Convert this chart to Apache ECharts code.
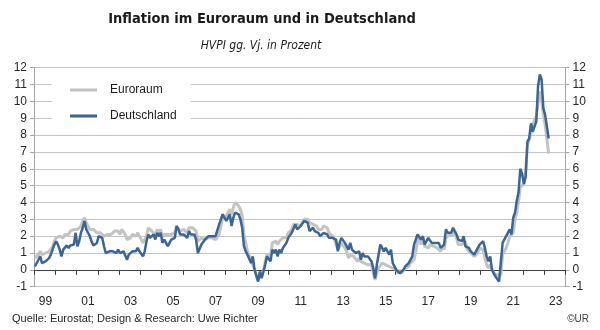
<!DOCTYPE html>
<html>
<head>
<meta charset="utf-8">
<script src="https://cdn.jsdelivr.net/npm/echarts@6/dist/echarts.min.js"></script>
<style>
html,body{margin:0;padding:0;background:#fff;}
#chart{width:600px;height:330px;}
</style>
</head>
<body>
<div id="chart"></div>
<script>
// ---- Data (monthly HICP y/y, Jan 1999 - Mar 2023) ----
const startYear = 1999;
const endYear = 2023;
const yearLabels = ['99','01','03','05','07','09','11','13','15','17','19','21','23'];
const labelYears = [1999,2001,2003,2005,2007,2009,2011,2013,2015,2017,2019,2021,2023];
const seriesNames = ['Euroraum', 'Deutschland'];

const euroraum = [
  0.7, 0.8, 0.9, 1.1, 0.9, 0.9, 1.0, 1.1, 1.1, 1.2, 1.4, 1.7,
  1.9, 1.9, 2.0, 1.9, 1.9, 2.1, 2.0, 2.1, 2.3, 2.3, 2.4, 2.5,
  2.4, 2.5, 2.6, 2.9, 3.1, 2.8, 2.6, 2.4, 2.3, 2.4, 2.3, 2.2,
  2.3, 2.2, 2.2, 2.0, 2.0, 2.1, 2.0, 2.1, 2.1, 2.3, 2.3, 2.3,
  2.1, 2.4, 2.5, 2.1, 1.8, 1.9, 1.9, 2.1, 2.2, 2.0, 2.2, 2.0,
  1.9, 1.6, 1.7, 2.0, 2.5, 2.4, 2.3, 2.3, 2.1, 2.4, 2.2, 2.4,
  1.9, 2.1, 2.1, 2.1, 2.0, 2.1, 2.2, 2.2, 2.6, 2.5, 2.3, 2.2,
  2.4, 2.3, 2.2, 2.5, 2.5, 2.5, 2.5, 2.3, 1.7, 1.6, 1.9, 1.9,
  1.8, 1.8, 1.9, 1.9, 1.9, 1.9, 1.8, 1.7, 2.1, 2.6, 3.1, 3.1,
  3.2, 3.3, 3.6, 3.3, 3.7, 4.0, 4.0, 3.8, 3.6, 3.2, 2.1, 1.6,
  1.1, 1.2, 0.6, 0.6, 0.0, -0.1, -0.6, -0.2, -0.3, -0.1, 0.5, 0.9,
  1.0, 0.8, 1.6, 1.6, 1.7, 1.5, 1.7, 1.6, 1.9, 1.9, 1.9, 2.2,
  2.3, 2.4, 2.7, 2.8, 2.7, 2.7, 2.6, 2.6, 3.0, 3.0, 3.0, 2.8,
  2.7, 2.7, 2.7, 2.6, 2.4, 2.4, 2.4, 2.6, 2.6, 2.5, 2.2, 2.2,
  2.0, 1.8, 1.7, 1.2, 1.4, 1.6, 1.6, 1.3, 1.1, 0.7, 0.9, 0.8,
  0.8, 0.7, 0.5, 0.7, 0.5, 0.5, 0.4, 0.4, 0.3, 0.4, 0.3, -0.2,
  -0.6, -0.2, 0.1, 0.2, 0.4, 0.3, 0.3, 0.3, 0.2, 0.3, 0.1, 0.1,
  0.0, -0.2, 0.0, -0.2, -0.1, 0.1, 0.2, 0.2, 0.4, 0.5, 0.6, 1.1,
  1.7, 2.0, 1.5, 1.9, 1.4, 1.3, 1.3, 1.5, 1.5, 1.4, 1.5, 1.3,
  1.3, 1.1, 1.4, 1.2, 1.9, 2.0, 2.1, 2.0, 2.1, 2.3, 1.9, 1.5,
  1.4, 1.5, 1.4, 1.7, 1.2, 1.3, 1.0, 1.0, 0.8, 0.7, 1.0, 1.3,
  1.4, 1.2, 0.7, 0.3, 0.1, 0.3, 0.4, -0.2, -0.3, -0.3, -0.3, -0.3,
  0.9, 0.9, 1.3, 1.6, 2.0, 1.9, 2.2, 3.0, 3.4, 4.1, 4.9, 5.0,
  5.1, 5.9, 7.4, 7.4, 8.1, 8.6, 8.9, 9.1, 9.9, 10.6, 10.1, 9.2,
  8.6, 8.5, 6.9
];

const deutschland = [
  0.2, 0.3, 0.6, 0.8, 0.4, 0.5, 0.5, 0.6, 0.7, 0.9, 1.2, 1.5,
  1.7, 1.5, 1.2, 0.8, 1.2, 1.3, 1.45, 1.3, 1.45, 1.4, 1.5, 2.2,
  1.4, 1.7, 2.2, 2.5, 2.9, 2.4, 2.2, 2.0, 1.7, 1.45, 1.4, 1.6,
  2.0, 2.0, 1.9, 1.4, 1.0, 1.0, 1.1, 1.1, 1.1, 1.1, 1.0, 1.2,
  1.0, 1.1, 1.1, 1.0, 0.6, 0.9, 0.8, 1.1, 1.1, 1.1, 1.3, 1.1,
  1.2, 0.8, 1.1, 1.7, 2.1, 1.9, 2.0, 2.1, 1.8, 2.2, 2.0, 2.2,
  1.6, 1.8, 1.6, 1.4, 1.6, 1.8, 1.9, 1.9, 2.6, 2.4, 2.1, 2.1,
  2.1, 2.1, 1.9, 2.3, 2.1, 2.0, 2.1, 1.8, 1.0, 1.1, 1.5, 1.4,
  1.8, 1.9, 2.0, 2.0, 2.0, 2.0, 2.0, 2.0, 2.7, 2.7, 3.3, 3.1,
  2.9, 3.0, 3.3, 2.6, 3.1, 3.4, 3.5, 3.3, 3.0, 2.5, 1.4, 1.1,
  0.9, 1.0, 0.4, 0.8, 0.0, 0.0, -0.7, -0.1, -0.5, -0.1, 0.3, 0.8,
  0.8, 0.5, 1.2, 1.0, 1.2, 0.8, 1.2, 1.0, 1.3, 1.3, 1.6, 1.9,
  2.0, 2.2, 2.3, 2.7, 2.4, 2.4, 2.6, 2.5, 2.9, 2.9, 2.8, 2.3,
  2.3, 2.5, 2.3, 2.2, 2.2, 2.0, 2.1, 2.2, 2.1, 2.1, 1.9, 2.0,
  1.9, 1.8, 1.8, 1.1, 1.6, 1.9, 1.9, 1.6, 1.6, 1.2, 1.6, 1.2,
  1.2, 1.0, 0.9, 1.1, 0.6, 1.0, 0.8, 0.8, 0.8, 0.7, 0.5, 0.1,
  -0.5, 0.3, 0.9, 1.5, 1.3, 1.1, 1.3, 1.1, 0.9, 1.2, 0.4, 0.3,
  0.0, -0.1, -0.2, -0.1, 0.0, 0.2, 0.3, 0.4, 0.5, 0.8, 1.5, 1.8,
  2.1, 2.0, 1.8, 2.0, 1.5, 1.7, 1.9, 1.9, 1.6, 1.5, 1.6, 1.6,
  1.6, 1.3, 1.4, 1.5, 2.4, 2.2, 2.1, 2.2, 2.5, 2.4, 2.1, 1.8,
  1.8, 1.7, 2.0, 1.4, 1.5, 1.3, 1.1, 1.0, 0.9, 1.0, 1.3, 1.5,
  1.6, 1.7, 1.3, 0.8, 0.5, 0.8, 0.0, -0.1, -0.4, -0.5, -0.7, -0.7,
  1.6, 1.6, 2.0, 2.1, 2.4, 2.1, 3.1, 3.4, 4.1, 4.6, 6.0, 5.7,
  5.1, 5.5, 7.6, 7.8, 8.7, 8.2, 8.5, 8.8, 10.9, 11.6, 11.3, 9.6,
  9.2, 9.3, 7.8
];

// Month categories Jan 1999 .. Dec 2023
const months = [];
for (let y = startYear; y <= endYear; y++) {
  for (let m = 1; m <= 12; m++) months.push(y + '-' + (m < 10 ? '0' + m : m));
}

const labelFont = '"Liberation Sans", Arial, sans-serif';
const chart = echarts.init(document.getElementById('chart'), null, {renderer: 'canvas'});

chart.setOption({
  animation: false,
  backgroundColor: '#ffffff',
  grid: {left: 34, right: 34.5, top: 67.7, bottom: 43.3, containLabel: false},
  legend: {
    data: seriesNames,
    orient: 'vertical',
    left: 52, top: 75,
    padding: [8, 14, 6, 18],
    backgroundColor: '#ffffff',
    itemWidth: 27, itemHeight: 3,
    itemGap: 12,
    icon: 'rect',
    textStyle: {fontFamily: labelFont, fontSize: 12, color: '#1a1a1a', lineHeight: 14, padding: [0, 0, 0, 8]}
  },
  xAxis: [
    {
      type: 'category', data: months, boundaryGap: true, position: 'bottom',
      axisLine: {show: false, onZero: false},
      axisTick: {show: false},
      splitLine: {show: false},
      axisLabel: {
        margin: 9, fontFamily: labelFont, fontSize: 12, color: '#262626',
        interval: function (i) {
          const yr = startYear + Math.floor(i / 12);
          return i % 12 === 6 && labelYears.indexOf(yr) >= 0;
        },
        formatter: function (v) {
          const yr = parseInt(v.slice(0, 4), 10);
          const k = labelYears.indexOf(yr);
          return k >= 0 ? yearLabels[k] : '';
        }
      }
    },
    {
      type: 'category', data: months, boundaryGap: true, position: 'top',
      axisLine: {show: true, onZero: true, lineStyle: {color: '#3f3f3f', width: 1}},
      axisTick: {show: true, inside: true, length: 5, interval: function (i) { return i % 12 === 0; }, lineStyle: {color: '#3f3f3f'}},
      axisLabel: {show: false},
      splitLine: {show: false}
    }
  ],
  yAxis: [
    {
      type: 'value', min: -1, max: 12, interval: 1, position: 'left',
      axisLine: {show: true, lineStyle: {color: '#a6a6a6'}},
      axisTick: {show: true, length: 4, lineStyle: {color: '#a6a6a6'}},
      axisLabel: {margin: 7, fontFamily: labelFont, fontSize: 12, color: '#262626'},
      splitLine: {show: true, lineStyle: {color: '#c4c4c4', width: 1}}
    },
    {
      type: 'value', min: -1, max: 12, interval: 1, position: 'right',
      axisLine: {show: true, onZero: false, lineStyle: {color: '#a6a6a6'}},
      axisTick: {show: true, length: 4, lineStyle: {color: '#a6a6a6'}},
      axisLabel: {margin: 7, fontFamily: labelFont, fontSize: 12, color: '#262626'},
      splitLine: {show: false}
    }
  ],
  series: [
    {
      name: seriesNames[0], type: 'line', data: euroraum, xAxisIndex: 0, yAxisIndex: 0,
      showSymbol: false, symbol: 'none', smooth: false,
      lineStyle: {color: '#c3c3c3', width: 3},
      itemStyle: {color: '#c3c3c3'}, z: 2
    },
    {
      name: seriesNames[1], type: 'line', data: deutschland, xAxisIndex: 0, yAxisIndex: 0,
      showSymbol: false, symbol: 'none', smooth: false,
      lineStyle: {color: '#3b6594', width: 2.5},
      itemStyle: {color: '#3b6594'}, z: 3
    }
  ],
  graphic: [
    {type: 'text', x: 262, y: 19, style: {text: 'Inflation im Euroraum und in Deutschland', textAlign: 'center', textVerticalAlign: 'middle', font: 'bold 14.5px "DejaVu Sans Condensed", "DejaVu Sans", sans-serif', fill: '#1a1a1a'}},
    {type: 'text', x: 261, y: 46, style: {text: 'HVPI gg. Vj. in Prozent', textAlign: 'center', textVerticalAlign: 'middle', font: 'italic 12px "DejaVu Sans Condensed", "DejaVu Sans", sans-serif', fill: '#1a1a1a'}},
    {type: 'text', x: 12, y: 319, style: {text: 'Quelle: Eurostat; Design & Research: Uwe Richter', textAlign: 'left', textVerticalAlign: 'middle', font: '11px "Liberation Sans", Arial, sans-serif', fill: '#262626'}},
    {type: 'text', x: 589, y: 319, style: {text: '©UR', textAlign: 'right', textVerticalAlign: 'middle', font: '10px "Liberation Sans", Arial, sans-serif', fill: '#404040'}}
  ]
});
</script>
</body>
</html>
